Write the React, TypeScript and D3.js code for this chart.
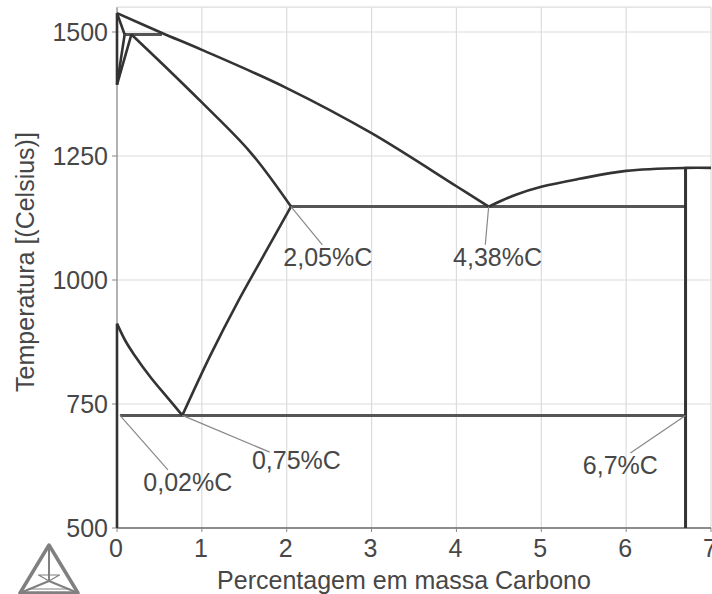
import React from "react";
import * as d3 from "d3";

const W = 712;
const H = 594;

const xTicks = [0, 1, 2, 3, 4, 5, 6, 7];
const yTicks = [500, 750, 1000, 1250, 1500];

// Phase boundaries: [carbon %, temperature °C]
const liquidusLeft: [number, number][] = [[0, 1538], [0.53, 1498], [1.0, 1464], [2.0, 1387], [3.0, 1296], [4.0, 1189], [4.38, 1148]];
const deltaSolidus: [number, number][] = [[0, 1538], [0.09, 1495]];
const deltaGammaA: [number, number][] = [[0, 1394], [0.09, 1495]];
const deltaGammaB: [number, number][] = [[0, 1394], [0.17, 1495]];
const peritectic: [number, number][] = [[0.09, 1495], [0.53, 1495]];
const gammaSolidus: [number, number][] = [[0.17, 1495], [0.6, 1425], [1.0, 1358], [1.57, 1258], [2.05, 1148]];
const eutectic: [number, number][] = [[2.05, 1148], [6.7, 1148]];
const cementiteLiquidus: [number, number][] = [[4.38, 1148], [4.7, 1172], [5.0, 1188], [5.45, 1204], [6.0, 1220], [6.7, 1226], [7.0, 1226]];
const cementiteLine: [number, number][] = [[6.7, 1226], [6.7, 500]];
const eutectoid: [number, number][] = [[0.035, 727], [6.7, 727]];
const a3Line: [number, number][] = [[0, 912], [0.1, 877], [0.2, 850], [0.4, 803], [0.6, 762], [0.77, 727]];
const acmLine: [number, number][] = [[0.77, 727], [1.1, 848], [1.43, 958], [1.75, 1056], [2.05, 1148]];
const alphaLine: [number, number][] = [[0, 912], [0, 500]];
const deltaAxis: [number, number][] = [[0, 1394], [0, 1538]];

const boundaries = [liquidusLeft, deltaSolidus, deltaGammaA, deltaGammaB, gammaSolidus, cementiteLiquidus, a3Line, acmLine, alphaLine, deltaAxis];
const isotherms = [peritectic, eutectic, eutectoid];

const annLabels = ["2,05%C", "4,38%C", "0,75%C", "0,02%C", "6,7%C"];
const annAnchors: [number, number][] = [[2.05, 1148], [4.38, 1148], [0.77, 727], [0.035, 727], [6.7, 727]];
const annLeaderEnds: [number, number][] = [[2.42, 1071], [4.34, 1071], [1.8, 653], [0.6, 617], [6.05, 651]];
const annTextPos: [number, number][] = [[1.96, 1028], [3.96, 1028], [1.59, 619], [0.31, 575], [5.49, 609]];

export default function App() {
  const x = d3.scaleLinear().domain([0, 7]).range([117, 711]);
  const y = d3.scaleLinear().domain([500, 1550]).range([528, 7.2]);
  const line = d3.line<[number, number]>().x((d) => x(d[0])).y((d) => y(d[1])).curve(d3.curveCatmullRom.alpha(0.5));
  const straight = d3.line<[number, number]>().x((d) => x(d[0])).y((d) => y(d[1]));
  const font = "'Liberation Sans', Arial, sans-serif";
  const txt = "#474747";

  const triA: [number, number] = [49, 545];
  const triB: [number, number] = [20, 593];
  const triC: [number, number] = [78, 593];
  const cx = (triA[0] + triB[0] + triC[0]) / 3;
  const cy = (triA[1] + triB[1] + triC[1]) / 3 + 4;

  return (
    <svg width={W} height={H} style={{ position: "absolute", left: 0, top: 0, background: "#fff" }}>
      {/* grid */}
      {xTicks.slice(1).map((t) => (
        <line key={"gx" + t} x1={x(t)} x2={x(t)} y1={y(1550)} y2={y(500)} stroke="#dcdcdc" strokeWidth={1.2} />
      ))}
      {yTicks.slice(1).map((t) => (
        <line key={"gy" + t} x1={x(0)} x2={x(7)} y1={y(t)} y2={y(t)} stroke="#dcdcdc" strokeWidth={1.2} />
      ))}
      <line x1={x(0)} x2={x(7)} y1={y(1550)} y2={y(1550)} stroke="#dcdcdc" strokeWidth={1.2} />
      {/* axes */}
      <line x1={x(0)} x2={x(0)} y1={y(1550)} y2={y(500)} stroke="#999" strokeWidth={1.5} />
      <line x1={x(0)} x2={x(7)} y1={y(500)} y2={y(500)} stroke="#666" strokeWidth={1.5} />
      {yTicks.map((t) => (
        <g key={"yt" + t}>
          <line x1={x(0) - 5} x2={x(0)} y1={y(t)} y2={y(t)} stroke="#888" strokeWidth={1} />
          <text x={108} y={y(t)} dy="0.35em" textAnchor="end" fontFamily={font} fontSize={25} fill={txt}>{t}</text>
        </g>
      ))}
      {xTicks.map((t) => (
        <g key={"xt" + t}>
          <line x1={x(t)} x2={x(t)} y1={y(500)} y2={y(500) + 4} stroke="#888" strokeWidth={1} />
          <text x={x(t) - 1} y={557} textAnchor="middle" fontFamily={font} fontSize={25} fill={txt}>{t}</text>
        </g>
      ))}
      <text x={404} y={589} textAnchor="middle" fontFamily={font} fontSize={25} fill={txt}>Percentagem em massa Carbono</text>
      <text transform={`translate(34,262) rotate(-90)`} textAnchor="middle" fontFamily={font} fontSize={25} fill={txt}>Temperatura [(Celsius)]</text>

      {/* isotherms */}
      {isotherms.map((d, i) => (
        <path key={"iso" + i} d={straight(d) || ""} fill="none" stroke="#555" strokeWidth={3} />
      ))}
      {/* phase boundaries */}
      {boundaries.map((d, i) => (
        <path key={"b" + i} d={line(d) || ""} fill="none" stroke="#333" strokeWidth={2.6} strokeLinejoin="round" />
      ))}
      <path d={straight(cementiteLine) || ""} fill="none" stroke="#333" strokeWidth={3} />

      {/* annotations */}
      {annLabels.map((lab, i) => (
        <g key={"ann" + i}>
          <line x1={x(annAnchors[i][0])} y1={y(annAnchors[i][1])} x2={x(annLeaderEnds[i][0])} y2={y(annLeaderEnds[i][1])} stroke="#888" strokeWidth={1.2} />
          <text x={x(annTextPos[i][0])} y={y(annTextPos[i][1])} fontFamily={font} fontSize={25} fill={txt}>{lab}</text>
        </g>
      ))}

      {/* logo */}
      <g stroke="#808080" fill="none" strokeLinejoin="round">
        <polygon points={[triA, triB, triC].map((p) => p.join(",")).join(" ")} strokeWidth={3.5} />
        <line x1={triA[0]} y1={triA[1]} x2={cx} y2={cy} strokeWidth={2} />
        <line x1={triB[0]} y1={triB[1]} x2={cx} y2={cy} strokeWidth={2} />
        <line x1={triC[0]} y1={triC[1]} x2={cx} y2={cy} strokeWidth={2} />
        <polygon points={`${cx},${cy} ${(triA[0] + triB[0]) / 2 + 4},${(triA[1] + triB[1]) / 2 + 6} ${(triA[0] + triC[0]) / 2 - 4},${(triA[1] + triC[1]) / 2 + 6}`} strokeWidth={1.2} />
        <line x1={triB[0] + 8} y1={triB[1] - 4} x2={triC[0] - 8} y2={triC[1] - 4} strokeWidth={1.2} />
      </g>
    </svg>
  );
}
